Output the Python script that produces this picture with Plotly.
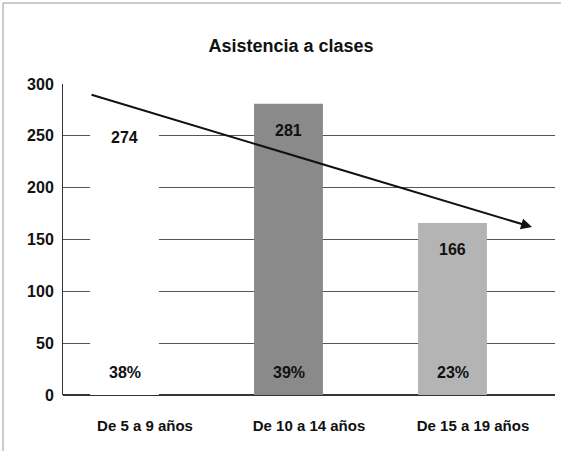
import plotly.graph_objects as go

categories = ["De 5 a 9 años", "De 10 a 14 años", "De 15 a 19 años"]
values = [274, 281, 166]
percent_labels = ["38%", "39%", "23%"]
bar_colors = ["#ffffff", "#8a8a8a", "#b4b4b4"]
y_ticks = [0, 50, 100, 150, 200, 250, 300]
trend_x = [-0.335, 2.36]
trend_y = [290, 162]
percent_y = 22
bar_offset = -0.125

font = "Liberation Sans, Arial, sans-serif"


def f(size, bold=True):
    return dict(family=font, size=size, color="#111",
                weight="bold" if bold else "normal")


fig = go.Figure()
fig.add_trace(go.Bar(
    x=[i + bar_offset for i in range(len(categories))], y=values,
    marker=dict(color=bar_colors, line=dict(width=0)),
    width=0.42, showlegend=False, hoverinfo="skip",
))

annotations = []
for i, (v, p) in enumerate(zip(values, percent_labels)):
    annotations.append(dict(x=i + bar_offset, y=v, xref="x", yref="y", text=str(v),
                            showarrow=False, yshift=-27, font=f(16)))
    annotations.append(dict(x=i + bar_offset, y=percent_y, xref="x", yref="y", text=p,
                            showarrow=False, font=f(16)))
annotations.append(dict(x=trend_x[1], y=trend_y[1], ax=trend_x[0], ay=trend_y[0],
                        xref="x", yref="y", axref="x", ayref="y", text="",
                        showarrow=True, arrowhead=2, arrowsize=1.1, arrowwidth=2,
                        arrowcolor="#111"))

fig.update_layout(
    width=561, height=453,
    margin=dict(l=63, r=6, t=84, b=58),
    paper_bgcolor="white", plot_bgcolor="white",
    title=dict(text="Asistencia a clases", xref="container", x=291 / 561,
               xanchor="center", yref="container", y=1 - 46 / 453, yanchor="middle",
               font=f(18)),
    annotations=annotations,
    xaxis=dict(tickmode="array", tickvals=list(range(len(categories))),
               ticktext=categories,
               range=[-0.5, 2.5], showgrid=False, zeroline=False,
               showline=False, ticks="", ticklabelstandoff=20,
               tickfont=f(15)),
    yaxis=dict(range=[0, 300], tickvals=y_ticks, showgrid=True,
               gridcolor="#555", gridwidth=1, zeroline=True, zerolinecolor="#333",
               showline=True, linecolor="#333", linewidth=1,
               ticks="", ticklabelstandoff=5,
               tickfont=f(16)),
    shapes=[
        dict(type="line", xref="paper", yref="paper", x0=-60 / 492, x1=-60 / 492,
             y0=-56 / 311, y1=1 + 81 / 311, line=dict(color="#999", width=1)),
        dict(type="line", xref="paper", yref="paper", x0=-60 / 492, x1=1 + 6 / 492,
             y0=1 + 81 / 311, y1=1 + 81 / 311, line=dict(color="#999", width=1)),
    ],
)
fig.write_html("out.html", post_script="document.body.style.margin='0';",
               config={"displayModeBar": False})
